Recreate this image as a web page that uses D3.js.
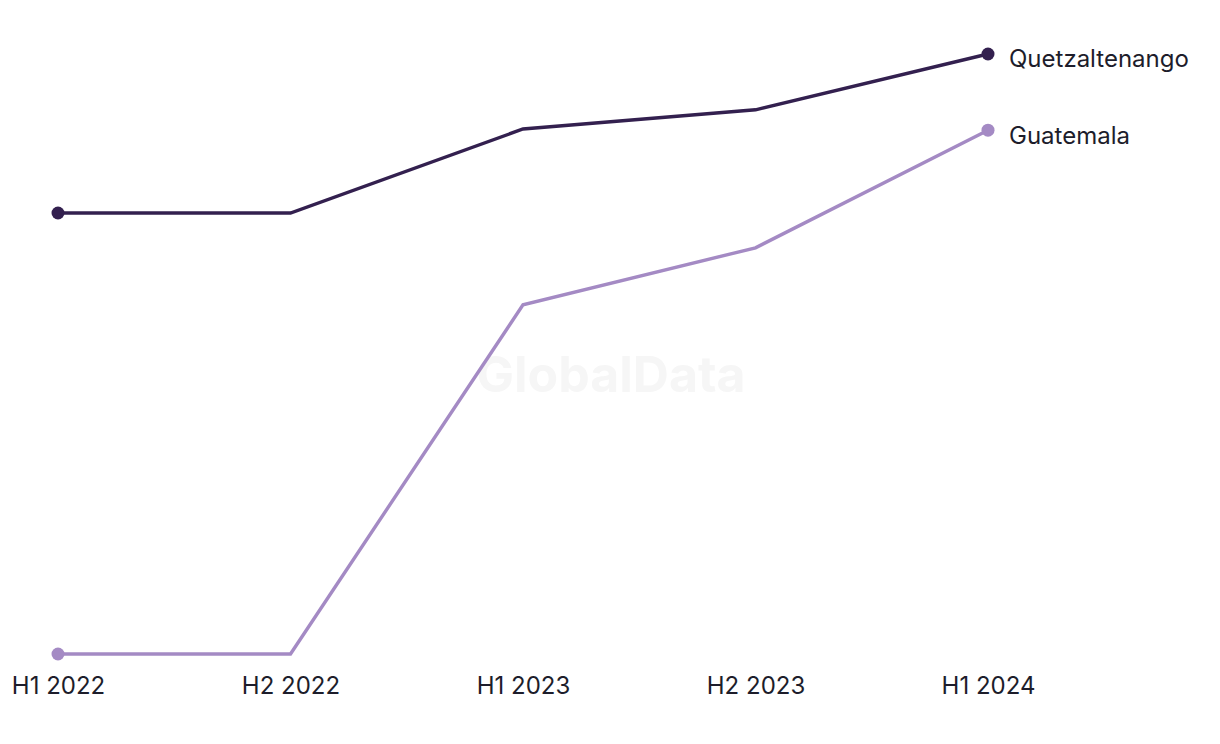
<!DOCTYPE html>
<html><head><meta charset="utf-8">
<script src="https://cdn.jsdelivr.net/npm/d3@7"></script>
<style>body{margin:0;background:#fff;font-family:Inter,"Noto Sans",sans-serif;}</style>
</head><body><svg id="c" width="1220" height="744"></svg>
<script>
const categories = ["H1 2022","H2 2022","H1 2023","H2 2023","H1 2024"];
const seriesNames = ["Quetzaltenango","Guatemala"];
const quetzaltenango = [73.5, 73.5, 87.5, 90.7, 100];
const guatemala = [0, 0, 58.2, 67.7, 87.3];
const colors = ["#33204f","#a48ac4"];

const svg = d3.select("#c");
const x = d3.scalePoint().domain(categories).range([58, 988]);
const y = d3.scaleLinear().domain([0, 100]).range([654, 54]);

svg.append("text").attr("x", 611).attr("y", 392).attr("text-anchor","middle")
  .attr("font-size", 50).attr("font-weight", 700).attr("fill", "#f6f6f6")
  .attr("font-family","Inter, sans-serif").text("GlobalData");

const axis = d3.axisBottom(x).tickSize(0).tickPadding(0);
const g = svg.append("g").attr("transform","translate(0,674)").call(axis);
g.select(".domain").remove();
g.selectAll("text").attr("font-size", 24).attr("fill","#1d1d2b")
  .attr("font-family","Inter, sans-serif").attr("dy","0.71em").attr("y",3);

const data = [quetzaltenango, guatemala];
const line = d3.line().x((d,i)=>x(categories[i])).y(d=>y(d));
data.forEach((vals, s) => {
  svg.append("path").datum(vals).attr("d", line).attr("fill","none")
    .attr("stroke", colors[s]).attr("stroke-width", 3.4).attr("stroke-linejoin","miter");
  svg.append("circle").attr("cx", x(categories[0])).attr("cy", y(vals[0])).attr("r", 6.5).attr("fill", colors[s]);
  const last = vals.length-1;
  svg.append("circle").attr("cx", x(categories[last])).attr("cy", y(vals[last])).attr("r", 6.5).attr("fill", colors[s]);
  svg.append("text").attr("x", x(categories[last]) + 21).attr("y", y(vals[last]) + 5)
    .attr("dy","0.35em").attr("font-size", 24).attr("fill","#1d1d2b")
    .attr("font-family","Inter, sans-serif").text(seriesNames[s]);
});
</script></body></html>
